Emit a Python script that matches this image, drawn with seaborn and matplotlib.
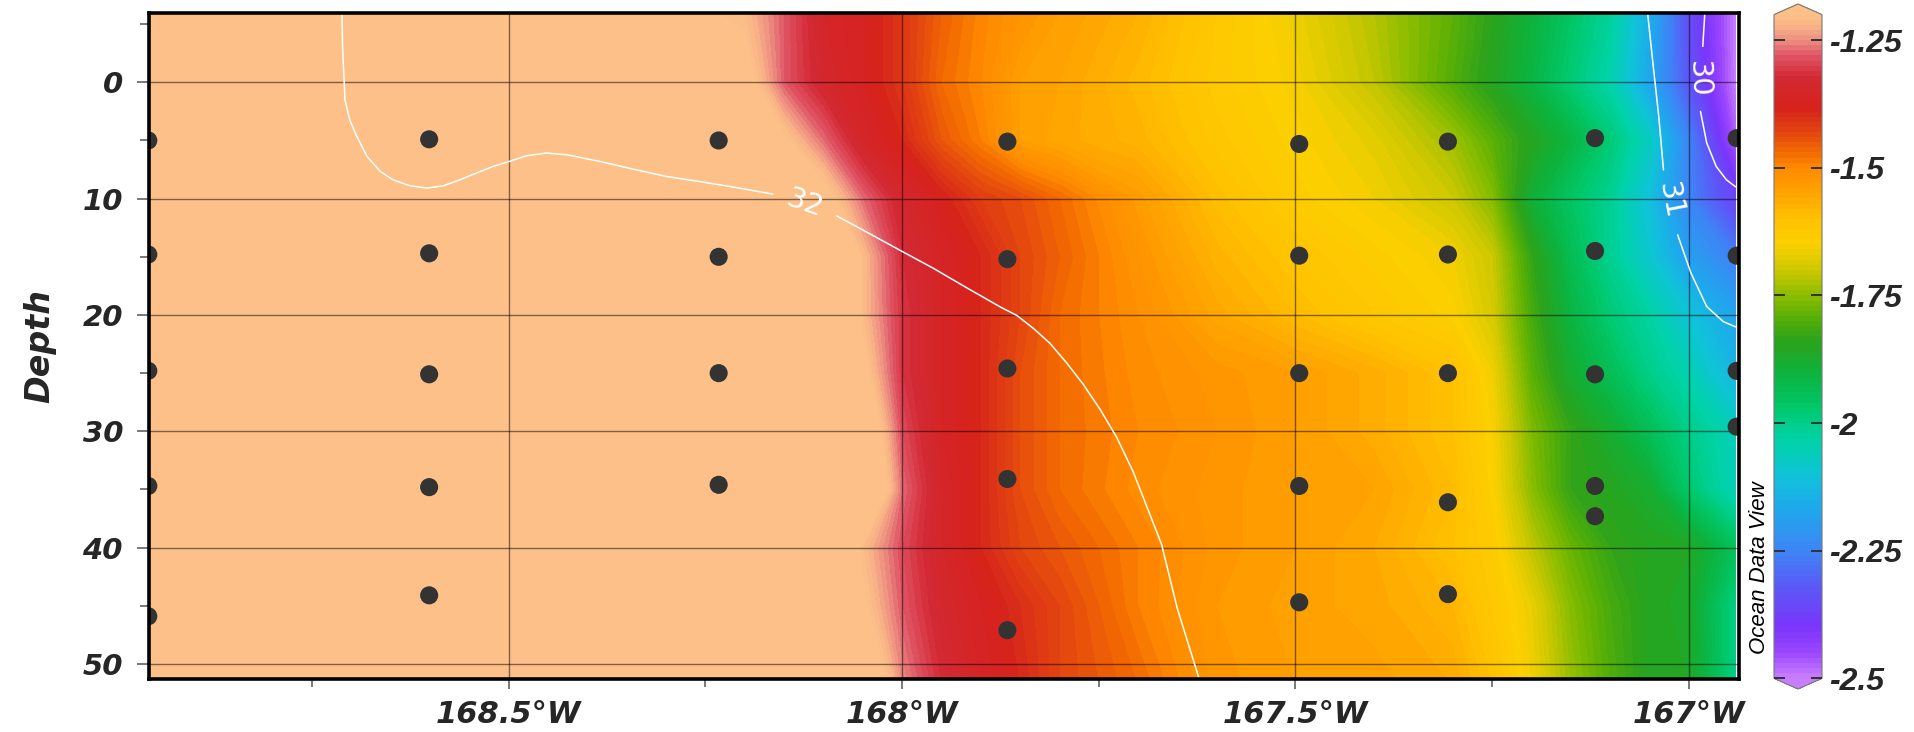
import numpy as np
import pandas as pd
import matplotlib
matplotlib.use("Agg")
import matplotlib.pyplot as plt
from matplotlib.colors import LinearSegmentedColormap, Normalize
import seaborn as sns

# ---------------- data ----------------
# station longitudes (deg E, negative = W) and sample depths per station
station_lon = [-168.958, -168.601, -168.233, -167.866, -167.495, -167.306, -167.119, -166.939]
sample_depths = [
    [5.0, 14.8, 24.8, 34.7, 45.9],
    [4.9, 14.7, 25.1, 34.8, 44.1],
    [5.0, 15.0, 25.0, 34.6],
    [5.1, 15.2, 24.6, 34.1, 47.1],
    [5.3, 14.9, 25.0, 34.7, 44.7],
    [5.1, 14.8, 25.0, 36.1, 44.0],
    [4.8, 14.5, 25.1, 34.7, 37.3],
    [4.8, 14.9, 24.8, 29.6],
]

# gridded section field
grid_lon = [-168.96, -168.20, -168.15, -168.10, -168.05, -168.00, -167.95, -167.90,
            -167.85, -167.80, -167.70, -167.60, -167.50, -167.40, -167.30, -167.25,
            -167.20, -167.15, -167.10, -167.05, -167.00, -166.94]
grid_depth = [-6, 0, 5, 10, 15, 20, 25, 30, 35, 40, 45, 52]
field_values = [
    [-1.0, -1.21, -1.28, -1.35, -1.37, -1.41, -1.46, -1.495, -1.52, -1.54, -1.57, -1.62, -1.665, -1.72, -1.79, -1.84, -1.90, -1.96, -2.02, -2.15, -2.35, -2.50],
    [-1.0, -1.17, -1.28, -1.34, -1.37, -1.41, -1.47, -1.50, -1.54, -1.55, -1.585, -1.625, -1.655, -1.71, -1.80, -1.85, -1.91, -1.98, -2.04, -2.17, -2.33, -2.50],
    [-1.0, -1.0, -1.19, -1.27, -1.35, -1.39, -1.45, -1.49, -1.54, -1.555, -1.575, -1.615, -1.645, -1.675, -1.735, -1.79, -1.85, -1.91, -1.98, -2.07, -2.25, -2.47],
    [-1.0, -1.0, -1.0, -1.17, -1.27, -1.34, -1.38, -1.42, -1.44, -1.47, -1.535, -1.595, -1.635, -1.66, -1.70, -1.755, -1.89, -1.96, -2.01, -2.11, -2.25, -2.37],
    [-1.0, -1.0, -1.0, -1.05, -1.21, -1.32, -1.36, -1.39, -1.43, -1.46, -1.52, -1.575, -1.61, -1.635, -1.66, -1.70, -1.83, -1.935, -2.01, -2.09, -2.19, -2.26],
    [-1.0, -1.0, -1.0, -1.0, -1.21, -1.31, -1.36, -1.39, -1.43, -1.47, -1.51, -1.555, -1.59, -1.62, -1.645, -1.69, -1.81, -1.91, -1.98, -2.03, -2.10, -2.18],
    [-1.0, -1.0, -1.0, -1.0, -1.18, -1.31, -1.36, -1.39, -1.44, -1.47, -1.505, -1.525, -1.54, -1.565, -1.60, -1.66, -1.79, -1.88, -1.94, -2.00, -2.05, -2.14],
    [-1.0, -1.0, -1.0, -1.0, -1.12, -1.29, -1.36, -1.39, -1.44, -1.47, -1.50, -1.52, -1.54, -1.565, -1.60, -1.65, -1.76, -1.83, -1.88, -1.94, -2.00, -2.06],
    [-1.0, -1.0, -1.0, -1.0, -1.08, -1.27, -1.35, -1.39, -1.44, -1.47, -1.505, -1.525, -1.54, -1.55, -1.59, -1.645, -1.75, -1.83, -1.85, -1.88, -1.97, -2.06],
    [-1.0, -1.0, -1.0, -1.0, -1.21, -1.29, -1.35, -1.39, -1.43, -1.45, -1.49, -1.525, -1.54, -1.56, -1.60, -1.63, -1.71, -1.78, -1.83, -1.85, -1.86, -1.95],
    [-1.0, -1.0, -1.0, -1.0, -1.19, -1.28, -1.34, -1.37, -1.40, -1.43, -1.49, -1.53, -1.545, -1.555, -1.58, -1.62, -1.67, -1.755, -1.81, -1.85, -1.87, -2.00],
    [-1.0, -1.0, -1.0, -1.0, -1.10, -1.25, -1.32, -1.36, -1.39, -1.43, -1.47, -1.525, -1.54, -1.545, -1.56, -1.60, -1.66, -1.74, -1.80, -1.85, -1.86, -2.00],
]

# isolines of the overlay variable (lon, depth)
iso32_a_lon = [-168.712, -168.711, -168.708, -168.702, -168.693, -168.680, -168.663, -168.647,
               -168.625, -168.604, -168.583, -168.562, -168.541, -168.520, -168.499, -168.477,
               -168.452, -168.426, -168.384, -168.342, -168.299, -168.257, -168.214, -168.164]
iso32_a_dep = [-6.5, -2.9, 1.50, 3.22, 4.65, 6.37, 7.67, 8.38, 8.90, 9.09, 8.90, 8.38, 7.80,
               7.24, 6.80, 6.31, 6.08, 6.23, 6.80, 7.46, 8.10, 8.53, 9.01, 9.61]
iso32_b_lon = [-168.083, -168.045, -168.003, -167.960, -167.918, -167.875, -167.854, -167.833,
               -167.812, -167.791, -167.770, -167.748, -167.727, -167.706, -167.689, -167.670,
               -167.650, -167.623, -167.620]
iso32_b_dep = [11.48, 12.87, 14.42, 15.99, 17.65, 19.31, 20.04, 21.15, 22.43, 24.09, 25.92,
               28.13, 30.52, 33.49, 36.43, 39.71, 45.23, 51.11, 52.0]
iso31_a_lon = [-167.053, -167.045, -167.038, -167.032]
iso31_a_dep = [-6.5, -1.37, 2.93, 7.52]
iso31_b_lon = [-167.014, -166.997, -166.977, -166.956, -166.941, -166.930]
iso31_b_dep = [13.11, 16.41, 19.28, 20.57, 21.0, 21.2]
iso30_a_lon = [-166.979, -166.982]
iso30_a_dep = [-6.5, -3.09]
iso30_b_lon = [-166.985, -166.977, -166.965, -166.952, -166.941, -166.930]
iso30_b_dep = [2.5, 5.22, 7.23, 8.38, 8.95, 9.3]
iso_labels = ["32", "31", "30"]
iso_label_lon = [-168.123, -167.024, -166.987]
iso_label_dep = [10.45, 10.2, -0.3]
iso_label_rot = [-19, -79, -88]

# colour scale
cbar_values = [-2.5, -2.45, -2.4, -2.33, -2.25, -2.17, -2.1, -2.03, -1.97, -1.9, -1.84, -1.79,
               -1.75, -1.7, -1.65, -1.6, -1.55, -1.5, -1.47, -1.43, -1.38, -1.32, -1.28, -1.25, -1.22, -1.2]
cbar_colors = ['#c77dff', '#9b45ff', '#7a35fa', '#5e55f8', '#3d85f5', '#1fa8ee', '#0ec4d6', '#00d3a5',
               '#00c86a', '#0db23c', '#2ba31c', '#5bb004', '#8bbd00', '#ccc800', '#fcd000', '#ffc200',
               '#ffa500', '#ff8a00', '#f36a00', '#e34510', '#d6221c', '#d32a36', '#df5465', '#ec8c80',
               '#f9b487', '#fdbf88']
cbar_ticks = [-2.5, -2.25, -2.0, -1.75, -1.5, -1.25]
cbar_ticklabels = ['-2.5', '-2.25', '-2', '-1.75', '-1.5', '-1.25']
x_ticks = [-168.5, -168.0, -167.5, -167.0]
x_ticklabels = ['168.5°W', '168°W', '167.5°W', '167°W']
x_minor = [-168.75, -168.25, -167.75, -167.25]
y_ticks = [0, 10, 20, 30, 40, 50]
y_minor = [-5, 5, 15, 25, 35, 45]

# ---------------- style ----------------
sns.set_theme(style="white")
plt.rcParams['font.family'] = ['Liberation Sans', 'DejaVu Sans']
WIDE = ['DejaVu Sans']

vmin, vmax = -2.5, -1.2
pos = [(v - vmin) / (vmax - vmin) for v in cbar_values]
cmap = LinearSegmentedColormap.from_list("odv", list(zip(pos, cbar_colors)), N=512)
cmap.set_over('#fdc089')
cmap.set_under('#c77dff')
norm = Normalize(vmin=vmin, vmax=vmax)

W, H = 1915, 732
fig = plt.figure(figsize=(W / 100, H / 100), dpi=100)
ax = fig.add_axes([148.7 / W, 53.5 / H, (1739 - 148.7) / W, (678.5 - 13.1) / H])

levels = np.linspace(vmin, vmax, 131)
cf = ax.contourf(grid_lon, grid_depth, np.array(field_values), levels=levels,
                 cmap=cmap, norm=norm, extend='both', antialiased=False, zorder=1)

# isolines
lw_iso = 1.1
for xs, ys in [(iso32_a_lon, iso32_a_dep), (iso32_b_lon, iso32_b_dep),
               (iso31_a_lon, iso31_a_dep), (iso31_b_lon, iso31_b_dep),
               (iso30_a_lon, iso30_a_dep), (iso30_b_lon, iso30_b_dep)]:
    ax.plot(xs, ys, color='white', lw=lw_iso, zorder=3, solid_joinstyle='round')
for lab, lx, ly, rot in zip(iso_labels, iso_label_lon, iso_label_dep, iso_label_rot):
    ax.text(lx, ly, lab, color='white', fontsize=21, rotation=rot, rotation_mode='anchor',
            ha='center', va='center', zorder=4, family=WIDE)

# station samples
rows = []
for lon, deps in zip(station_lon, sample_depths):
    for d in deps:
        rows.append({'lon': lon, 'depth': d})
df = pd.DataFrame(rows)
sns.scatterplot(data=df, x='lon', y='depth', ax=ax, color='#333333', s=170,
                edgecolor='none', linewidth=0, zorder=5, legend=False)

ax.set_xlim(-168.9575, -166.936)
ax.set_ylim(51.25, -5.95)
ax.set_xticks(x_ticks)
ax.set_xticklabels(x_ticklabels)
ax.set_xticks(x_minor, minor=True)
ax.set_yticks(y_ticks)
ax.set_yticklabels([str(t) for t in y_ticks])
ax.set_yticks(y_minor, minor=True)

ax.set_axisbelow(False)
ax.grid(True, which='major', color='black', alpha=0.5, lw=1.0, zorder=2)
ax.grid(False, which='minor')

for sp in ax.spines.values():
    sp.set_linewidth(2.6)
    sp.set_color('black')
    sp.set_zorder(6)

ax.tick_params(axis='x', which='major', direction='out', length=7.5, width=1.1, color='#555555',
               bottom=True, pad=8, labelsize=22)
ax.tick_params(axis='x', which='minor', direction='out', length=5.5, width=1.1, color='#555555', bottom=True)
ax.tick_params(axis='y', which='major', direction='out', length=8.5, width=1.1, color='#555555',
               left=True, pad=10, labelsize=21)
ax.tick_params(axis='y', which='minor', direction='out', length=6.5, width=1.1, color='#555555', left=True)
for lab in ax.get_xticklabels() + ax.get_yticklabels():
    lab.set_family(WIDE)
    lab.set_fontweight('bold')
    lab.set_fontstyle('italic')

ax.set_xlabel('')
ax.set_ylabel('Depth', fontsize=24, fontweight='bold', fontstyle='italic', family=WIDE)
ax.yaxis.set_label_coords(-0.058, 0.5)

# colour bar (position includes the end triangles)
cax = fig.add_axes([1774 / W, (H - 689) / H, 48 / W, 685 / H])
cbar = fig.colorbar(cf, cax=cax, extend='both', extendfrac=0.016, ticks=cbar_ticks)
cbar.set_ticklabels(cbar_ticklabels)
cbar.outline.set_linewidth(0.8)
cbar.outline.set_edgecolor('#777777')
cax.set_axisbelow(False)
cax.yaxis.set_ticks_position('both')
cax.tick_params(axis='y', which='major', direction='in', length=8, width=1.4, color='#333333',
                left=True, right=True, labelleft=False, labelright=True, pad=5, labelsize=23)
cax.tick_params(axis='y', which='minor', left=False, right=False)
for lab in cax.get_yticklabels():
    lab.set_fontweight('bold')
    lab.set_fontstyle('italic')

fig.text(1760 / W, (H - 654) / H, 'Ocean Data View', rotation=90, ha='center', va='bottom',
         fontsize=16, fontstyle='italic', color='black')

fig.savefig('out.png', dpi=100)
